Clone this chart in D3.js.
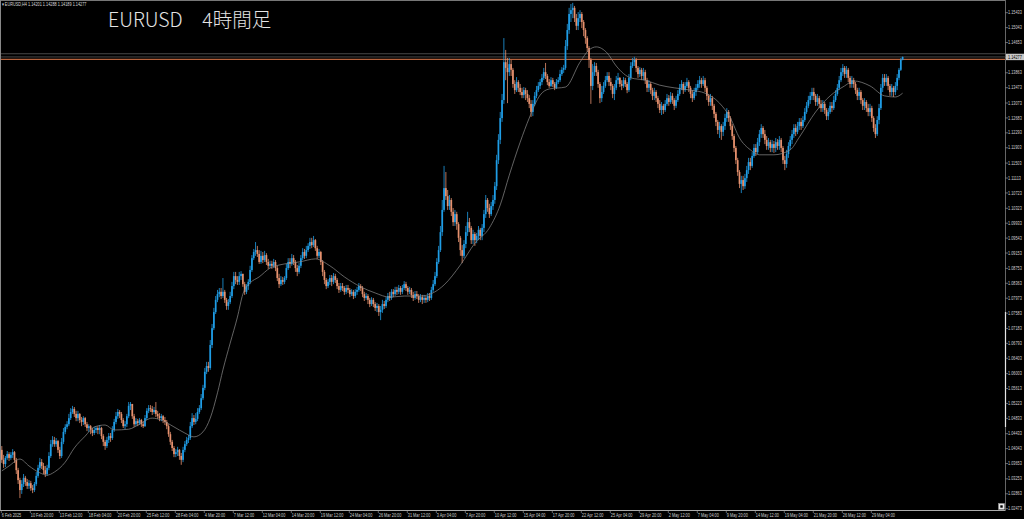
<!DOCTYPE html>
<html><head><meta charset="utf-8">
<script src="https://cdn.jsdelivr.net/npm/d3@7"></script>
<style>
html,body{margin:0;padding:0;background:#000;overflow:hidden;}
svg{display:block;}
</style></head><body>
<svg id="c" width="1024" height="519"></svg>
<script>
const symbolLabel = "EURUSD,H4";
const headerOHLC = ["1.14201","1.14288","1.14189","1.14277"];
const titleText = "EURUSD\u30004時間足";
const timeLabels = ["6 Feb 2025","10 Feb 20:00","13 Feb 12:00","18 Feb 04:00","20 Feb 20:00","25 Feb 12:00","28 Feb 04:00","4 Mar 20:00","7 Mar 12:00","12 Mar 04:00","14 Mar 20:00","19 Mar 12:00","24 Mar 04:00","26 Mar 20:00","31 Mar 12:00","3 Apr 04:00","7 Apr 20:00","10 Apr 12:00","15 Apr 04:00","17 Apr 20:00","22 Apr 12:00","25 Apr 04:00","29 Apr 20:00","2 May 12:00","7 May 04:00","9 May 20:00","14 May 12:00","19 May 04:00","21 May 20:00","26 May 12:00","29 May 04:00"];
const barsPerTimeLabel = 16;
const priceTicks = [1.15433,1.15043,1.14653,1.14263,1.13863,1.13473,1.13073,1.12683,1.12293,1.11903,1.11503,1.11113,1.10723,1.10323,1.09933,1.09543,1.09153,1.08753,1.08363,1.07973,1.07583,1.07183,1.06793,1.06403,1.06003,1.05613,1.05223,1.04833,1.04433,1.04043,1.03653,1.03253,1.02863,1.02473];
const bidPrice = 1.14277;
const greyLevel = 1.14360;
const orangeLevel = 1.14215;

const opens = [
1.0401,1.0375,1.0364,1.0380,1.0390,1.0380,1.0388,1.0395,1.0375,1.0348,
1.0322,1.0296,1.0312,1.0328,1.0317,1.0307,1.0314,1.0301,1.0296,1.0312,
1.0333,1.0354,1.0369,1.0359,1.0348,1.0338,1.0354,1.0385,1.0416,1.0427,
1.0416,1.0424,1.0401,1.0385,1.0422,1.0448,1.0461,1.0468,1.0484,1.0500,
1.0508,1.0495,1.0484,1.0495,1.0479,1.0474,1.0484,1.0468,1.0458,1.0463,
1.0453,1.0445,1.0453,1.0458,1.0453,1.0458,1.0437,1.0422,1.0411,1.0427,
1.0437,1.0432,1.0453,1.0474,1.0489,1.0500,1.0495,1.0479,1.0463,1.0468,
1.0489,1.0516,1.0521,1.0489,1.0468,1.0476,1.0471,1.0479,1.0468,1.0463,
1.0484,1.0503,1.0510,1.0508,1.0500,1.0505,1.0495,1.0489,1.0484,1.0489,
1.0479,1.0474,1.0463,1.0442,1.0422,1.0406,1.0390,1.0395,1.0401,1.0385,
1.0375,1.0401,1.0416,1.0427,1.0432,1.0463,1.0484,1.0474,1.0482,1.0500,
1.0510,1.0536,1.0563,1.0605,1.0620,1.0615,1.0675,1.0719,1.0761,1.0793,
1.0808,1.0814,1.0803,1.0814,1.0793,1.0777,1.0787,1.0803,1.0829,1.0855,
1.0845,1.0840,1.0855,1.0861,1.0834,1.0814,1.0829,1.0840,1.0871,1.0902,
1.0918,1.0923,1.0913,1.0892,1.0908,1.0897,1.0910,1.0892,1.0882,1.0887,
1.0882,1.0892,1.0876,1.0850,1.0834,1.0845,1.0840,1.0850,1.0876,1.0892,
1.0887,1.0902,1.0892,1.0876,1.0866,1.0882,1.0902,1.0918,1.0908,1.0923,
1.0934,1.0944,1.0936,1.0949,1.0928,1.0908,1.0918,1.0892,1.0866,1.0845,
1.0829,1.0840,1.0850,1.0840,1.0855,1.0845,1.0829,1.0819,1.0829,1.0824,
1.0814,1.0824,1.0819,1.0808,1.0814,1.0803,1.0814,1.0819,1.0829,1.0824,
1.0808,1.0798,1.0803,1.0793,1.0782,1.0793,1.0782,1.0772,1.0777,1.0761,
1.0767,1.0782,1.0777,1.0793,1.0803,1.0798,1.0814,1.0808,1.0819,1.0814,
1.0824,1.0814,1.0824,1.0834,1.0824,1.0814,1.0819,1.0806,1.0798,1.0808,
1.0803,1.0793,1.0800,1.0793,1.0798,1.0793,1.0803,1.0798,1.0819,1.0834,
1.0855,1.0892,1.0923,1.0970,1.1028,1.1085,1.1064,1.1038,1.1054,1.1023,
1.0996,1.1017,1.0991,1.0955,1.0923,1.0908,1.0939,1.0970,1.0996,1.0981,
1.0949,1.0965,1.0949,1.0960,1.0976,1.0960,1.0981,1.1017,1.1054,1.1033,
1.1017,1.1038,1.1054,1.1090,1.1158,1.1211,1.1268,1.1315,1.1414,1.1399,
1.1388,1.1409,1.1394,1.1357,1.1341,1.1362,1.1347,1.1336,1.1328,1.1341,
1.1331,1.1320,1.1305,1.1284,1.1305,1.1326,1.1341,1.1352,1.1362,1.1373,
1.1388,1.1378,1.1362,1.1352,1.1367,1.1357,1.1347,1.1362,1.1367,1.1383,
1.1394,1.1399,1.1456,1.1498,1.1540,1.1550,1.1556,1.1529,1.1509,1.1529,
1.1540,1.1519,1.1498,1.1477,1.1451,1.1420,1.1352,1.1388,1.1404,1.1388,
1.1357,1.1320,1.1336,1.1352,1.1367,1.1378,1.1362,1.1352,1.1331,1.1347,
1.1367,1.1373,1.1357,1.1352,1.1367,1.1357,1.1341,1.1373,1.1404,1.1414,
1.1420,1.1399,1.1383,1.1394,1.1378,1.1388,1.1367,1.1347,1.1357,1.1341,
1.1326,1.1336,1.1320,1.1305,1.1289,1.1300,1.1289,1.1305,1.1320,1.1310,
1.1326,1.1315,1.1300,1.1315,1.1331,1.1347,1.1357,1.1341,1.1352,1.1362,
1.1347,1.1331,1.1320,1.1336,1.1347,1.1357,1.1367,1.1357,1.1367,1.1347,
1.1326,1.1310,1.1320,1.1300,1.1279,1.1258,1.1237,1.1247,1.1232,1.1247,
1.1268,1.1284,1.1268,1.1247,1.1221,1.1190,1.1158,1.1127,1.1096,1.1106,
1.1090,1.1111,1.1132,1.1153,1.1143,1.1169,1.1190,1.1179,1.1205,1.1226,
1.1242,1.1226,1.1211,1.1195,1.1205,1.1190,1.1200,1.1190,1.1205,1.1195,
1.1211,1.1190,1.1158,1.1148,1.1174,1.1195,1.1211,1.1226,1.1242,1.1232,
1.1247,1.1258,1.1247,1.1263,1.1284,1.1300,1.1315,1.1326,1.1336,1.1326,
1.1310,1.1320,1.1305,1.1294,1.1305,1.1289,1.1273,1.1284,1.1300,1.1294,
1.1315,1.1331,1.1347,1.1367,1.1388,1.1399,1.1383,1.1394,1.1373,1.1357,
1.1367,1.1357,1.1341,1.1326,1.1336,1.1315,1.1300,1.1310,1.1294,1.1284,
1.1294,1.1268,1.1242,1.1226,1.1263,1.1294,1.1347,1.1373,1.1362,1.1373,
1.1352,1.1336,1.1347,1.1336,1.1352,1.1373,1.1394,1.14201];

const highs = [
1.0411,1.0388,1.0385,1.0398,1.0395,1.0395,1.0403,1.0398,1.0380,1.0354,
1.0328,1.0322,1.0338,1.0333,1.0325,1.0322,1.0320,1.0309,1.0317,1.0343,
1.0362,1.0380,1.0377,1.0367,1.0359,1.0362,1.0395,1.0427,1.0437,1.0435,
1.0432,1.0427,1.0409,1.0432,1.0458,1.0468,1.0476,1.0495,1.0510,1.0516,
1.0513,1.0503,1.0503,1.0497,1.0487,1.0489,1.0487,1.0474,1.0468,1.0466,
1.0458,1.0461,1.0463,1.0463,1.0466,1.0461,1.0442,1.0427,1.0435,1.0445,
1.0445,1.0463,1.0482,1.0500,1.0508,1.0505,1.0500,1.0484,1.0476,1.0495,
1.0526,1.0526,1.0521,1.0495,1.0484,1.0482,1.0484,1.0482,1.0476,1.0492,
1.0510,1.0518,1.0518,1.0516,1.0513,1.0526,1.0503,1.0497,1.0495,1.0492,
1.0487,1.0479,1.0468,1.0448,1.0427,1.0411,1.0403,1.0409,1.0403,1.0393,
1.0409,1.0424,1.0435,1.0440,1.0474,1.0497,1.0492,1.0497,1.0510,1.0518,
1.0547,1.0571,1.0615,1.0631,1.0631,1.0688,1.0730,1.0772,1.0803,1.0819,
1.0824,1.0824,1.0850,1.0819,1.0798,1.0795,1.0814,1.0840,1.0866,1.0866,
1.0855,1.0866,1.0868,1.0861,1.0840,1.0834,1.0847,1.0882,1.0910,1.0926,
1.0944,1.0934,1.0923,1.0921,1.0918,1.0921,1.0915,1.0900,1.0895,1.0895,
1.0900,1.0897,1.0882,1.0861,1.0855,1.0853,1.0855,1.0887,1.0902,1.0902,
1.0913,1.0910,1.0897,1.0884,1.0889,1.0910,1.0928,1.0926,1.0934,1.0941,
1.0955,1.0955,1.0960,1.0952,1.0934,1.0926,1.0921,1.0897,1.0871,1.0850,
1.0847,1.0858,1.0858,1.0863,1.0861,1.0850,1.0837,1.0837,1.0837,1.0829,
1.0832,1.0832,1.0824,1.0821,1.0819,1.0821,1.0827,1.0837,1.0834,1.0829,
1.0814,1.0811,1.0808,1.0798,1.0800,1.0798,1.0787,1.0785,1.0782,1.0777,
1.0793,1.0790,1.0800,1.0811,1.0814,1.0821,1.0821,1.0827,1.0827,1.0832,
1.0829,1.0832,1.0842,1.0840,1.0829,1.0827,1.0824,1.0814,1.0816,1.0816,
1.0808,1.0808,1.0806,1.0806,1.0803,1.0811,1.0811,1.0827,1.0845,1.0866,
1.0902,1.0934,1.0986,1.1054,1.1143,1.1127,1.1080,1.1067,1.1059,1.1033,
1.1028,1.1023,1.0996,1.0960,1.0936,1.0949,1.0986,1.1023,1.1007,1.0986,
1.0976,1.0970,1.0968,1.0986,1.0981,1.0991,1.1028,1.1067,1.1059,1.1044,
1.1049,1.1067,1.1101,1.1172,1.1226,1.1284,1.1331,1.1477,1.1446,1.1425,
1.1425,1.1420,1.1399,1.1367,1.1375,1.1367,1.1357,1.1347,1.1349,1.1347,
1.1341,1.1328,1.1315,1.1315,1.1336,1.1352,1.1362,1.1370,1.1383,1.1399,
1.1412,1.1383,1.1370,1.1375,1.1373,1.1362,1.1370,1.1375,1.1394,1.1401,
1.1407,1.1472,1.1514,1.1556,1.1566,1.1569,1.1561,1.1540,1.1545,1.1550,
1.1545,1.1524,1.1503,1.1482,1.1456,1.1425,1.1409,1.1414,1.1412,1.1394,
1.1362,1.1352,1.1362,1.1378,1.1388,1.1388,1.1373,1.1357,1.1357,1.1378,
1.1386,1.1375,1.1367,1.1375,1.1373,1.1362,1.1383,1.1414,1.1425,1.1428,
1.1425,1.1404,1.1401,1.1399,1.1399,1.1394,1.1373,1.1367,1.1362,1.1347,
1.1347,1.1341,1.1326,1.1315,1.1310,1.1305,1.1315,1.1331,1.1328,1.1336,
1.1333,1.1320,1.1326,1.1341,1.1357,1.1367,1.1362,1.1362,1.1373,1.1367,
1.1352,1.1341,1.1347,1.1357,1.1367,1.1378,1.1373,1.1378,1.1373,1.1352,
1.1331,1.1331,1.1326,1.1305,1.1284,1.1263,1.1258,1.1252,1.1258,1.1279,
1.1294,1.1289,1.1273,1.1252,1.1226,1.1195,1.1164,1.1132,1.1117,1.1117,
1.1122,1.1143,1.1164,1.1164,1.1179,1.1200,1.1200,1.1216,1.1237,1.1252,
1.1247,1.1237,1.1221,1.1216,1.1211,1.1211,1.1208,1.1216,1.1213,1.1221,
1.1216,1.1195,1.1169,1.1185,1.1205,1.1221,1.1237,1.1252,1.1252,1.1258,
1.1268,1.1268,1.1273,1.1294,1.1310,1.1326,1.1336,1.1347,1.1347,1.1331,
1.1331,1.1326,1.1315,1.1315,1.1310,1.1294,1.1294,1.1310,1.1310,1.1326,
1.1341,1.1357,1.1378,1.1399,1.1409,1.1404,1.1404,1.1399,1.1378,1.1378,
1.1373,1.1362,1.1347,1.1347,1.1341,1.1320,1.1320,1.1315,1.1305,1.1305,
1.1300,1.1273,1.1252,1.1273,1.1305,1.1357,1.1383,1.1383,1.1383,1.1378,
1.1357,1.1357,1.1352,1.1362,1.1383,1.1399,1.1425,1.14288];

const lows = [
1.0367,1.0354,1.0356,1.0375,1.0372,1.0375,1.0380,1.0367,1.0338,1.0312,
1.0275,1.0286,1.0304,1.0307,1.0299,1.0299,1.0294,1.0288,1.0291,1.0307,
1.0328,1.0348,1.0351,1.0338,1.0330,1.0333,1.0348,1.0380,1.0409,1.0409,
1.0409,1.0393,1.0377,1.0380,1.0416,1.0442,1.0455,1.0463,1.0479,1.0495,
1.0487,1.0476,1.0476,1.0471,1.0463,1.0466,1.0461,1.0450,1.0448,1.0442,
1.0437,1.0440,1.0445,1.0442,1.0442,1.0429,1.0411,1.0401,1.0406,1.0419,
1.0422,1.0427,1.0448,1.0468,1.0482,1.0484,1.0471,1.0458,1.0455,1.0461,
1.0484,1.0505,1.0482,1.0461,1.0463,1.0463,1.0466,1.0461,1.0458,1.0461,
1.0479,1.0497,1.0500,1.0492,1.0495,1.0487,1.0482,1.0476,1.0476,1.0471,
1.0466,1.0455,1.0435,1.0414,1.0398,1.0382,1.0382,1.0385,1.0375,1.0362,
1.0369,1.0395,1.0411,1.0419,1.0427,1.0458,1.0466,1.0468,1.0476,1.0495,
1.0505,1.0531,1.0557,1.0599,1.0605,1.0610,1.0667,1.0714,1.0756,1.0787,
1.0800,1.0795,1.0798,1.0785,1.0767,1.0767,1.0782,1.0798,1.0821,1.0834,
1.0832,1.0832,1.0845,1.0827,1.0806,1.0808,1.0819,1.0834,1.0866,1.0897,
1.0908,1.0905,1.0887,1.0887,1.0889,1.0892,1.0884,1.0874,1.0876,1.0874,
1.0876,1.0868,1.0842,1.0824,1.0829,1.0832,1.0834,1.0845,1.0871,1.0876,
1.0882,1.0884,1.0866,1.0855,1.0861,1.0876,1.0897,1.0900,1.0902,1.0918,
1.0926,1.0928,1.0931,1.0921,1.0900,1.0902,1.0884,1.0855,1.0834,1.0821,
1.0824,1.0832,1.0829,1.0834,1.0837,1.0821,1.0811,1.0814,1.0816,1.0806,
1.0808,1.0811,1.0800,1.0803,1.0795,1.0798,1.0806,1.0814,1.0816,1.0800,
1.0790,1.0793,1.0782,1.0774,1.0777,1.0774,1.0764,1.0761,1.0751,1.0740,
1.0759,1.0769,1.0772,1.0787,1.0790,1.0793,1.0800,1.0803,1.0806,1.0808,
1.0806,1.0808,1.0819,1.0816,1.0806,1.0808,1.0798,1.0790,1.0793,1.0795,
1.0785,1.0787,1.0782,1.0785,1.0785,1.0787,1.0790,1.0793,1.0814,1.0829,
1.0850,1.0887,1.0918,1.0960,1.1023,1.1054,1.1028,1.1028,1.1012,1.0986,
1.0986,1.0976,1.0944,1.0908,1.0889,1.0902,1.0928,1.0960,1.0970,1.0939,
1.0939,1.0934,1.0941,1.0949,1.0949,1.0949,1.0970,1.1007,1.1023,1.1007,
1.1012,1.1028,1.1044,1.1080,1.1148,1.1200,1.1258,1.1305,1.1367,1.1307,
1.1378,1.1378,1.1347,1.1331,1.1336,1.1336,1.1328,1.1320,1.1320,1.1315,
1.1310,1.1294,1.1271,1.1273,1.1300,1.1320,1.1336,1.1344,1.1354,1.1367,
1.1370,1.1354,1.1347,1.1349,1.1349,1.1341,1.1344,1.1357,1.1362,1.1378,
1.1386,1.1394,1.1446,1.1488,1.1519,1.1529,1.1519,1.1498,1.1498,1.1519,
1.1503,1.1482,1.1462,1.1441,1.1399,1.1305,1.1341,1.1378,1.1378,1.1347,
1.1307,1.1310,1.1331,1.1347,1.1362,1.1352,1.1341,1.1320,1.1315,1.1341,
1.1357,1.1349,1.1341,1.1347,1.1349,1.1333,1.1336,1.1367,1.1399,1.1404,
1.1388,1.1373,1.1375,1.1367,1.1367,1.1357,1.1336,1.1336,1.1331,1.1315,
1.1315,1.1310,1.1294,1.1281,1.1276,1.1279,1.1284,1.1300,1.1300,1.1305,
1.1305,1.1289,1.1294,1.1310,1.1326,1.1341,1.1331,1.1336,1.1347,1.1336,
1.1320,1.1310,1.1315,1.1326,1.1341,1.1347,1.1347,1.1352,1.1336,1.1315,
1.1300,1.1300,1.1289,1.1268,1.1247,1.1226,1.1216,1.1211,1.1221,1.1237,
1.1258,1.1258,1.1237,1.1211,1.1179,1.1148,1.1117,1.1085,1.1072,1.1080,
1.1083,1.1101,1.1122,1.1132,1.1138,1.1164,1.1169,1.1174,1.1195,1.1216,
1.1216,1.1200,1.1185,1.1185,1.1179,1.1179,1.1177,1.1179,1.1185,1.1185,
1.1179,1.1148,1.1132,1.1138,1.1164,1.1185,1.1200,1.1216,1.1221,1.1226,
1.1237,1.1237,1.1242,1.1258,1.1279,1.1294,1.1305,1.1315,1.1315,1.1300,
1.1300,1.1294,1.1284,1.1284,1.1279,1.1263,1.1263,1.1279,1.1284,1.1289,
1.1310,1.1326,1.1341,1.1362,1.1378,1.1373,1.1373,1.1362,1.1347,1.1347,
1.1347,1.1331,1.1315,1.1315,1.1305,1.1289,1.1289,1.1284,1.1273,1.1273,
1.1258,1.1232,1.1216,1.1221,1.1252,1.1289,1.1336,1.1352,1.1352,1.1341,
1.1326,1.1326,1.1323,1.1328,1.1341,1.1367,1.1391,1.14189];

const closes = [
1.0375,1.0364,1.0380,1.0390,1.0380,1.0388,1.0395,1.0375,1.0348,1.0322,
1.0296,1.0312,1.0328,1.0317,1.0307,1.0314,1.0301,1.0296,1.0312,1.0333,
1.0354,1.0369,1.0359,1.0348,1.0338,1.0354,1.0385,1.0416,1.0427,1.0416,
1.0424,1.0401,1.0385,1.0422,1.0448,1.0461,1.0468,1.0484,1.0500,1.0508,
1.0495,1.0484,1.0495,1.0479,1.0474,1.0484,1.0468,1.0458,1.0463,1.0453,
1.0445,1.0453,1.0458,1.0453,1.0458,1.0437,1.0422,1.0411,1.0427,1.0437,
1.0432,1.0453,1.0474,1.0489,1.0500,1.0495,1.0479,1.0463,1.0468,1.0489,
1.0516,1.0521,1.0489,1.0468,1.0476,1.0471,1.0479,1.0468,1.0463,1.0484,
1.0503,1.0510,1.0508,1.0500,1.0505,1.0495,1.0489,1.0484,1.0489,1.0479,
1.0474,1.0463,1.0442,1.0422,1.0406,1.0390,1.0395,1.0401,1.0385,1.0375,
1.0401,1.0416,1.0427,1.0432,1.0463,1.0484,1.0474,1.0482,1.0500,1.0510,
1.0536,1.0563,1.0605,1.0620,1.0615,1.0675,1.0719,1.0761,1.0793,1.0808,
1.0814,1.0803,1.0814,1.0793,1.0777,1.0787,1.0803,1.0829,1.0855,1.0845,
1.0840,1.0855,1.0861,1.0834,1.0814,1.0829,1.0840,1.0871,1.0902,1.0918,
1.0923,1.0913,1.0892,1.0908,1.0897,1.0910,1.0892,1.0882,1.0887,1.0882,
1.0892,1.0876,1.0850,1.0834,1.0845,1.0840,1.0850,1.0876,1.0892,1.0887,
1.0902,1.0892,1.0876,1.0866,1.0882,1.0902,1.0918,1.0908,1.0923,1.0934,
1.0944,1.0936,1.0949,1.0928,1.0908,1.0918,1.0892,1.0866,1.0845,1.0829,
1.0840,1.0850,1.0840,1.0855,1.0845,1.0829,1.0819,1.0829,1.0824,1.0814,
1.0824,1.0819,1.0808,1.0814,1.0803,1.0814,1.0819,1.0829,1.0824,1.0808,
1.0798,1.0803,1.0793,1.0782,1.0793,1.0782,1.0772,1.0777,1.0761,1.0767,
1.0782,1.0777,1.0793,1.0803,1.0798,1.0814,1.0808,1.0819,1.0814,1.0824,
1.0814,1.0824,1.0834,1.0824,1.0814,1.0819,1.0806,1.0798,1.0808,1.0803,
1.0793,1.0800,1.0793,1.0798,1.0793,1.0803,1.0798,1.0819,1.0834,1.0855,
1.0892,1.0923,1.0970,1.1028,1.1085,1.1064,1.1038,1.1054,1.1023,1.0996,
1.1017,1.0991,1.0955,1.0923,1.0908,1.0939,1.0970,1.0996,1.0981,1.0949,
1.0965,1.0949,1.0960,1.0976,1.0960,1.0981,1.1017,1.1054,1.1033,1.1017,
1.1038,1.1054,1.1090,1.1158,1.1211,1.1268,1.1315,1.1414,1.1399,1.1388,
1.1409,1.1394,1.1357,1.1341,1.1362,1.1347,1.1336,1.1328,1.1341,1.1331,
1.1320,1.1305,1.1284,1.1305,1.1326,1.1341,1.1352,1.1362,1.1373,1.1388,
1.1378,1.1362,1.1352,1.1367,1.1357,1.1347,1.1362,1.1367,1.1383,1.1394,
1.1399,1.1456,1.1498,1.1540,1.1550,1.1556,1.1529,1.1509,1.1529,1.1540,
1.1519,1.1498,1.1477,1.1451,1.1420,1.1352,1.1388,1.1404,1.1388,1.1357,
1.1320,1.1336,1.1352,1.1367,1.1378,1.1362,1.1352,1.1331,1.1347,1.1367,
1.1373,1.1357,1.1352,1.1367,1.1357,1.1341,1.1373,1.1404,1.1414,1.1420,
1.1399,1.1383,1.1394,1.1378,1.1388,1.1367,1.1347,1.1357,1.1341,1.1326,
1.1336,1.1320,1.1305,1.1289,1.1300,1.1289,1.1305,1.1320,1.1310,1.1326,
1.1315,1.1300,1.1315,1.1331,1.1347,1.1357,1.1341,1.1352,1.1362,1.1347,
1.1331,1.1320,1.1336,1.1347,1.1357,1.1367,1.1357,1.1367,1.1347,1.1326,
1.1310,1.1320,1.1300,1.1279,1.1258,1.1237,1.1247,1.1232,1.1247,1.1268,
1.1284,1.1268,1.1247,1.1221,1.1190,1.1158,1.1127,1.1096,1.1106,1.1090,
1.1111,1.1132,1.1153,1.1143,1.1169,1.1190,1.1179,1.1205,1.1226,1.1242,
1.1226,1.1211,1.1195,1.1205,1.1190,1.1200,1.1190,1.1205,1.1195,1.1211,
1.1190,1.1158,1.1148,1.1174,1.1195,1.1211,1.1226,1.1242,1.1232,1.1247,
1.1258,1.1247,1.1263,1.1284,1.1300,1.1315,1.1326,1.1336,1.1326,1.1310,
1.1320,1.1305,1.1294,1.1305,1.1289,1.1273,1.1284,1.1300,1.1294,1.1315,
1.1331,1.1347,1.1367,1.1388,1.1399,1.1383,1.1394,1.1373,1.1357,1.1367,
1.1357,1.1341,1.1326,1.1336,1.1315,1.1300,1.1310,1.1294,1.1284,1.1294,
1.1268,1.1242,1.1226,1.1263,1.1294,1.1347,1.1373,1.1362,1.1373,1.1352,
1.1336,1.1347,1.1336,1.1352,1.1373,1.1394,1.1420,1.14277];

const maBar = [0,4,10,15,21,25,29,35,40,46,51,57,62,70,76,83,88,95,101,106,111,115,119,122,126,130,133,137,142,148,153,159,164,173,181,189,198,206,214,222,231,239,244,253,261,269,275,280,286,291,297,302,311,319,324,328,334,339,347,355,363,371,380,388,396,402,407,413,418,426,435,440,449,457,465,470,479,487,493,497];
const maPrice = [1.0346,1.0359,1.0377,1.0359,1.0341,1.0335,1.0343,1.0369,1.0406,1.0437,1.0461,1.0466,1.0453,1.0455,1.0468,1.0484,1.0479,1.0461,1.0445,1.0435,1.0448,1.0484,1.0550,1.0610,1.0680,1.0748,1.0808,1.0837,1.0853,1.0876,1.0884,1.0889,1.0892,1.0900,1.0882,1.0853,1.0827,1.0811,1.0800,1.0803,1.0803,1.0814,1.0832,1.0884,1.0941,1.0981,1.1041,1.1119,1.1205,1.1268,1.1328,1.1344,1.1349,1.1414,1.1446,1.1454,1.1438,1.1404,1.1373,1.1367,1.1354,1.1347,1.1341,1.1333,1.1307,1.1268,1.1216,1.1185,1.1172,1.1172,1.1185,1.1218,1.1284,1.1326,1.1352,1.1365,1.1352,1.1326,1.1323,1.1333];

// ---------- drawing ----------
const svg = d3.select('#c');
const plotL = 0.5, plotR = 1005.5, plotT = 0.5, plotB = 510.5;
const upColor = '#1f9de6', downColor = '#e6916e';
const axisFont = '"Liberation Sans", Arial, sans-serif';
const squeeze = 0.8;
const n = closes.length;
const barStep = 1.8125;
const x = d3.scaleLinear().domain([0, n - 1]).range([1.8, 1.8 + (n - 1) * barStep]);
const y = d3.scaleLinear().domain([priceTicks[priceTicks.length - 1], priceTicks[0]]).range([508.7, 12.7]);

svg.append('rect').attr('width', 1024).attr('height', 519).attr('fill', '#000');

const defs = svg.append('defs');
defs.append('clipPath').attr('id', 'plotClip').append('rect')
  .attr('x', plotL).attr('y', plotT).attr('width', plotR - plotL).attr('height', plotB - plotT);

const plot = svg.append('g').attr('clip-path', 'url(#plotClip)');

// horizontal level lines
plot.append('line').attr('x1', plotL).attr('x2', plotR).attr('y1', y(greyLevel)).attr('y2', y(greyLevel))
  .attr('stroke', '#5a5a5a').attr('stroke-width', 0.8);
plot.append('line').attr('x1', plotL).attr('x2', plotR).attr('y1', y(bidPrice)).attr('y2', y(bidPrice))
  .attr('stroke', '#5a5a5a').attr('stroke-width', 0.8);
plot.append('line').attr('x1', plotL).attr('x2', plotR).attr('y1', y(orangeLevel)).attr('y2', y(orangeLevel))
  .attr('stroke', '#e0794a').attr('stroke-width', 1);

const idx = d3.range(n);
const cg = plot.append('g');
cg.selectAll('line.w').data(idx).join('line').attr('class', 'w')
  .attr('x1', i => x(i)).attr('x2', i => x(i))
  .attr('y1', i => y(highs[i])).attr('y2', i => y(lows[i]))
  .attr('stroke', i => closes[i] >= opens[i] ? upColor : downColor)
  .attr('stroke-width', 0.8);
cg.selectAll('rect.b').data(idx).join('rect').attr('class', 'b')
  .attr('x', i => x(i) - 0.85).attr('width', 1.7)
  .attr('y', i => y(Math.max(opens[i], closes[i])))
  .attr('height', i => Math.max(0.8, Math.abs(y(opens[i]) - y(closes[i]))))
  .attr('fill', i => closes[i] >= opens[i] ? upColor : downColor);

// moving average
const maLine = d3.line().x((d, k) => x(maBar[k])).y((d, k) => y(maPrice[k])).curve(d3.curveMonotoneX);
plot.append('path').datum(maBar).attr('d', maLine).attr('fill', 'none')
  .attr('stroke', '#8c8c8c').attr('stroke-width', 0.7);

// frame
svg.append('line').attr('x1', 0).attr('x2', plotR).attr('y1', plotT).attr('y2', plotT).attr('stroke', '#777').attr('stroke-width', 1);
svg.append('line').attr('x1', plotL).attr('x2', plotL).attr('y1', 0).attr('y2', plotB).attr('stroke', '#888').attr('stroke-width', 1);
svg.append('line').attr('x1', 0).attr('x2', plotR).attr('y1', plotB).attr('y2', plotB).attr('stroke', '#aaa').attr('stroke-width', 1);
svg.append('line').attr('x1', plotR).attr('x2', plotR).attr('y1', 0).attr('y2', plotB).attr('stroke', '#666').attr('stroke-width', 1);
svg.append('line').attr('x1', plotR).attr('x2', plotR).attr('y1', 312).attr('y2', 427).attr('stroke', '#e6e6e6').attr('stroke-width', 1.2);

// helper: small condensed text
function smallText(sel, tx, ty, fill) {
  return sel.attr('transform', (d, k) => `translate(${tx(d, k)},${ty(d, k)}) scale(${squeeze},1)`)
    .attr('fill', fill).attr('font-family', axisFont).attr('font-size', 4.8);
}

// right price axis
const ra = svg.append('g');
ra.selectAll('line').data(priceTicks).join('line')
  .attr('x1', plotR).attr('x2', plotR + 2.5).attr('y1', d => y(d)).attr('y2', d => y(d))
  .attr('stroke', '#aaa').attr('stroke-width', 0.6);
smallText(ra.selectAll('text').data(priceTicks).join('text'), () => 1008, d => y(d) + 1.6, '#cfcfcf')
  .text(d => d.toFixed(5));

// bid price label box
svg.append('rect').attr('x', plotR + 0.5).attr('y', y(bidPrice) - 3.2).attr('width', 18.5).attr('height', 6.4).attr('fill', '#c8c8c8');
smallText(svg.append('text').datum(bidPrice), () => 1008, d => y(d) + 1.7, '#000').text(d => d.toFixed(5));

// bottom time axis
const ta = svg.append('g');
ta.selectAll('line').data(timeLabels).join('line')
  .attr('x1', (d, k) => x(k * barsPerTimeLabel) - 0.5).attr('x2', (d, k) => x(k * barsPerTimeLabel) - 0.5)
  .attr('y1', plotB).attr('y2', plotB + 2.5).attr('stroke', '#aaa').attr('stroke-width', 0.6);
smallText(ta.selectAll('text').data(timeLabels).join('text'), (d, k) => x(k * barsPerTimeLabel), () => 516.6, '#cfcfcf')
  .text(d => d);

// header
smallText(svg.append('text').datum(0), () => 2, () => 6.2, '#d8d8d8')
  .text('\u25BE ' + symbolLabel + '  ' + headerOHLC.join(' '));

// title
svg.append('text').attr('x', 108).attr('y', 27).attr('fill', '#e4e4e4')
  .attr('font-family', '"Noto Sans CJK JP", "Noto Sans", sans-serif').attr('font-size', 19.5).attr('font-weight', 300)
  .text(titleText);

// corner icon
svg.append('rect').attr('x', 998.5).attr('y', 503.5).attr('width', 6).attr('height', 6).attr('fill', '#e8e8e8').attr('stroke', '#999').attr('stroke-width', 0.5);
svg.append('rect').attr('x', 1000.3).attr('y', 505.3).attr('width', 2.4).attr('height', 2.4).attr('fill', '#000');
</script>
</body></html>
